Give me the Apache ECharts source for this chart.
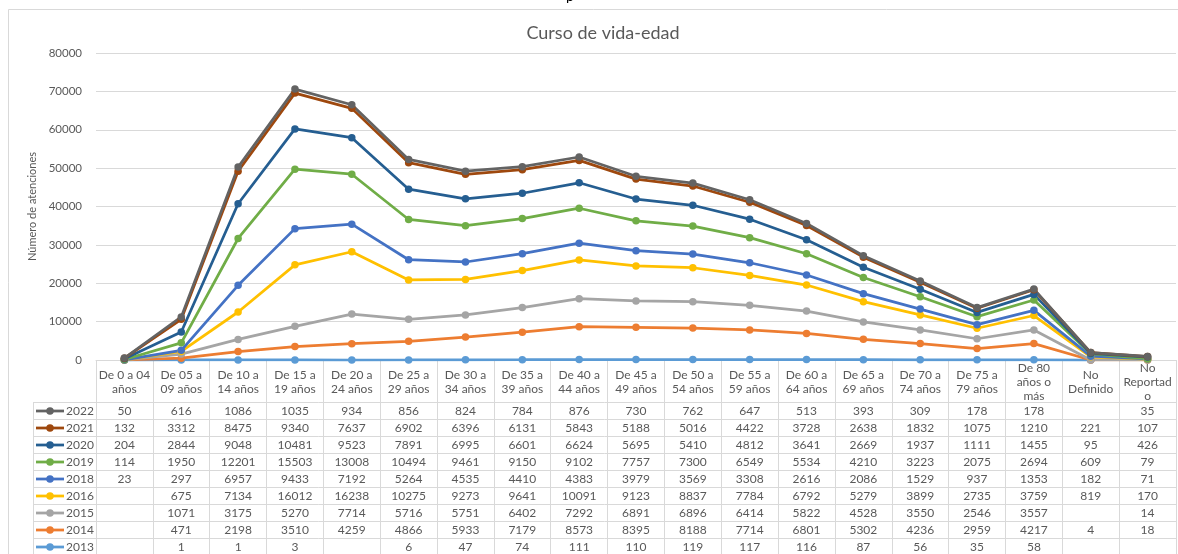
<!DOCTYPE html>
<html>
<head>
<meta charset="utf-8">
<script src="https://cdn.jsdelivr.net/npm/echarts@6/dist/echarts.min.js"></script>
<style>
  html, body { margin: 0; padding: 0; background: #fff; }
  #main { width: 1178px; height: 554px; }
</style>
</head>
<body>
<div id="main"></div>
<script>
// age groups (x axis / table header)
const categories = ['De 0 a 04\naños', 'De 05 a\n09 años', 'De 10 a\n14 años', 'De 15 a\n19 años', 'De 20 a\n24 años',
  'De 25 a\n29 años', 'De 30 a\n34 años', 'De 35 a\n39 años', 'De 40 a\n44 años', 'De 45 a\n49 años',
  'De 50 a\n54 años', 'De 55 a\n59 años', 'De 60 a\n64 años', 'De 65 a\n69 años', 'De 70 a\n74 años',
  'De 75 a\n79 años', 'De 80\naños o\nmás', 'No\nDefinido', 'No\nReportad\no'];

// null = empty cell (plotted as 0), '-' = not plotted
const y2013 = [null, 1, 1, 3, null, 6, 47, 74, 111, 110, 119, 117, 116, 87, 56, 35, 58, null, '-'];
const y2014 = [null, 471, 2198, 3510, 4259, 4866, 5933, 7179, 8573, 8395, 8188, 7714, 6801, 5302, 4236, 2959, 4217, 4, 18];
const y2015 = [null, 1071, 3175, 5270, 7714, 5716, 5751, 6402, 7292, 6891, 6896, 6414, 5822, 4528, 3550, 2546, 3557, null, 14];
const y2016 = [null, 675, 7134, 16012, 16238, 10275, 9273, 9641, 10091, 9123, 8837, 7784, 6792, 5279, 3899, 2735, 3759, 819, 170];
const y2018 = [23, 297, 6957, 9433, 7192, 5264, 4535, 4410, 4383, 3979, 3569, 3308, 2616, 2086, 1529, 937, 1353, 182, 71];
const y2019 = [114, 1950, 12201, 15503, 13008, 10494, 9461, 9150, 9102, 7757, 7300, 6549, 5534, 4210, 3223, 2075, 2694, 609, 79];
const y2020 = [204, 2844, 9048, 10481, 9523, 7891, 6995, 6601, 6624, 5695, 5410, 4812, 3641, 2669, 1937, 1111, 1455, 95, 426];
const y2021 = [132, 3312, 8475, 9340, 7637, 6902, 6396, 6131, 5843, 5188, 5016, 4422, 3728, 2638, 1832, 1075, 1210, 221, 107];
const y2022 = [50, 616, 1086, 1035, 934, 856, 824, 784, 876, 730, 762, 647, 513, 393, 309, 178, 178, null, 35];

const yTicks = [0, 10000, 20000, 30000, 40000, 50000, 60000, 70000, 80000];

// bottom of stack first
const seriesList = [
  { name: '2013', data: y2013, color: '#5B9BD5' },
  { name: '2014', data: y2014, color: '#ED7D31' },
  { name: '2015', data: y2015, color: '#A5A5A5' },
  { name: '2016', data: y2016, color: '#FFC000' },
  { name: '2018', data: y2018, color: '#4472C4' },
  { name: '2019', data: y2019, color: '#70AD47' },
  { name: '2020', data: y2020, color: '#255E91' },
  { name: '2021', data: y2021, color: '#9E480E' },
  { name: '2022', data: y2022, color: '#636363' }
];

const FONT = 'Lato, "Open Sans", sans-serif';
const TXT = '#595959';
const GRIDC = '#d9d9d9';
const TOP = 53, AXIS_Y = 360, LEFT = 96, RIGHT_X = 1176;
const ROW_TOP = 402, ROW_H = 17, LEG_X = 33;

const chart = echarts.init(document.getElementById('main'));

const option = {
  animation: false,
  backgroundColor: '#fff',
  title: {
    text: 'Curso de vida-edad',
    left: 598,
    textAlign: 'center',
    top: 19,
    textStyle: { fontFamily: FONT, fontSize: 18, fontWeight: 'normal', color: TXT }
  },
  grid: { left: LEFT, right: 1178 - RIGHT_X, top: TOP, bottom: 554 - AXIS_Y, containLabel: false },
  xAxis: {
    type: 'category',
    data: categories,
    boundaryGap: true,
    axisLine: { lineStyle: { color: GRIDC, width: 1 } },
    axisTick: { show: true, length: 200, lineStyle: { color: GRIDC } },
    axisLabel: {
      interval: 0,
      margin: 22,
      verticalAlign: 'middle',
      fontFamily: FONT,
      fontSize: 12,
      lineHeight: 14,
      color: TXT
    }
  },
  yAxis: {
    type: 'value',
    min: yTicks[0],
    max: yTicks[yTicks.length - 1],
    interval: yTicks[1] - yTicks[0],
    name: 'Número de atenciones',
    nameLocation: 'middle',
    nameRotate: 90,
    nameGap: 51,
    nameTextStyle: { fontFamily: FONT, fontSize: 11, color: TXT },
    axisLine: { show: false },
    axisTick: { show: false },
    axisLabel: { margin: 14, fontFamily: FONT, fontSize: 11.5, color: TXT, formatter: v => String(v) },
    splitLine: { lineStyle: { color: GRIDC, width: 1 } }
  },
  series: seriesList.map(s => ({
    name: s.name,
    type: 'line',
    stack: 'total',
    data: s.data.map(v => (v === null ? 0 : v)),
    color: s.color,
    symbol: 'circle',
    symbolSize: 7.5,
    lineStyle: { width: 2.75, color: s.color },
    itemStyle: { color: s.color }
  }))
};

chart.setOption(option);

// data table under the plot, rows from top: 2022 ... 2013
const rows = seriesList.slice().reverse();
const xs = categories.map((c, i) => chart.convertToPixel({ xAxisIndex: 0 }, i));
const graphics = [];

// outer chart border
graphics.push({
  type: 'rect', silent: true,
  shape: { x: 8.5, y: 9.5, width: 1180, height: 560 },
  style: { fill: null, stroke: GRIDC, lineWidth: 1 }
});

// cut-off text from the page above
graphics.push({
  type: 'text', silent: true, x: 566, y: -11,
  style: { text: 'p', fontFamily: FONT, fontSize: 14, fill: '#000' }
});

// legend column left edge and table left edge
graphics.push({
  type: 'line', silent: true,
  shape: { x1: LEG_X + 0.5, y1: ROW_TOP, x2: LEG_X + 0.5, y2: 554 },
  style: { stroke: GRIDC, lineWidth: 1 }
});
graphics.push({
  type: 'line', silent: true,
  shape: { x1: LEFT + 0.5, y1: ROW_TOP, x2: LEFT + 0.5, y2: 554 },
  style: { stroke: GRIDC, lineWidth: 1 }
});

rows.forEach((s, r) => {
  const yTop = ROW_TOP + r * ROW_H;
  const yc = yTop + ROW_H / 2 + 0.5;
  graphics.push({
    type: 'line', silent: true,
    shape: { x1: LEG_X, y1: yTop + 0.5, x2: RIGHT_X, y2: yTop + 0.5 },
    style: { stroke: GRIDC, lineWidth: 1 }
  });
  // legend key
  graphics.push({
    type: 'line', silent: true,
    shape: { x1: 36, y1: yc, x2: 64, y2: yc },
    style: { stroke: s.color, lineWidth: 2.75 }
  });
  graphics.push({
    type: 'circle', silent: true,
    shape: { cx: 50, cy: yc, r: 3.75 },
    style: { fill: s.color }
  });
  graphics.push({
    type: 'text', silent: true, x: 66, y: yc,
    style: { text: s.name, fontFamily: FONT, fontSize: 12, fill: TXT, verticalAlign: 'middle', align: 'left' }
  });
  s.data.forEach((v, i) => {
    if (v === null || v === '-') return;
    graphics.push({
      type: 'text', silent: true, x: xs[i], y: yc,
      style: { text: String(v), fontFamily: FONT, fontSize: 12, fill: TXT, align: 'center', verticalAlign: 'middle' }
    });
  });
});

chart.setOption({ graphic: graphics });
window.addEventListener('resize', chart.resize);
</script>
</body>
</html>
